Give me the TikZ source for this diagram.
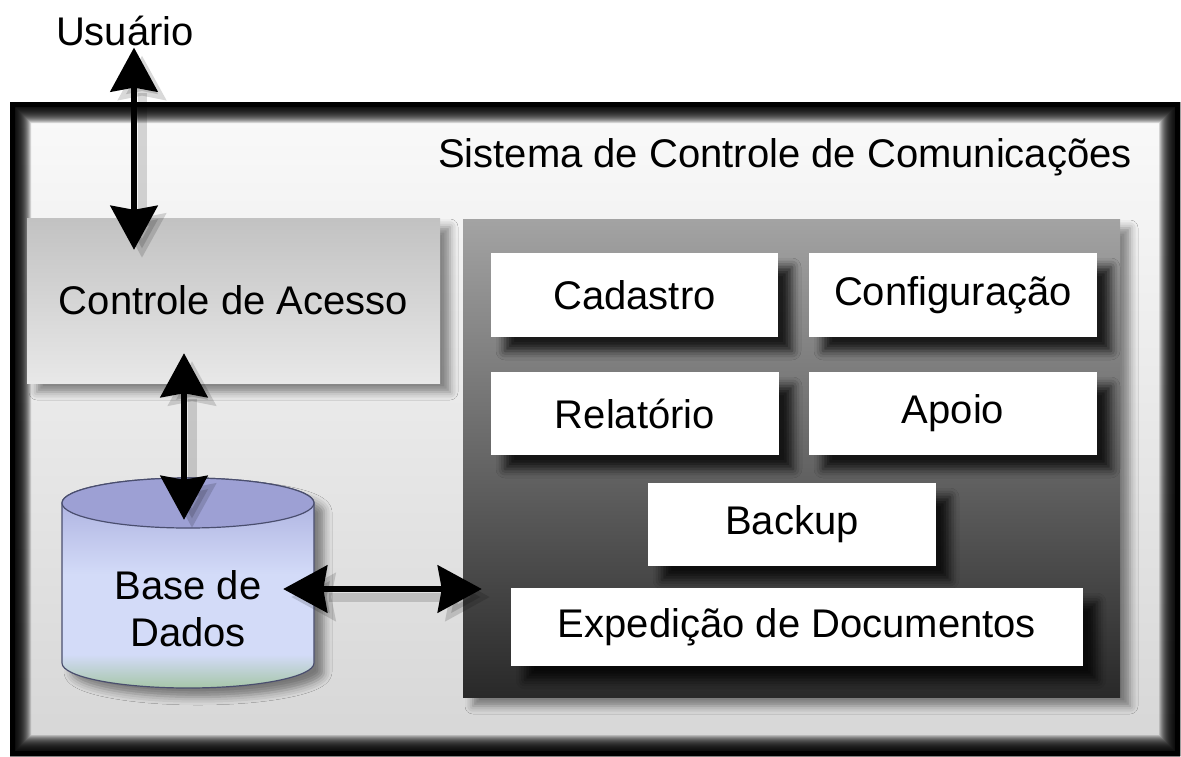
\documentclass[tikz,border=0pt]{standalone}
\usepackage{fontspec}
\setmainfont{Liberation Sans}
\usetikzlibrary{arrows.meta,shadows.blur}
\definecolor{dbcap}{HTML}{9DA0D4}
\definecolor{dbtop}{HTML}{A4A8DA}
\definecolor{dbmid}{HTML}{D3DBF8}
\definecolor{dbbot}{HTML}{A6C6A8}
\definecolor{dbline}{HTML}{4A4E6E}
\pgfdeclareverticalshading{dbbody}{100bp}{color(0bp)=(dbbot); color(25bp)=(dbbot);
	color(33bp)=(dbmid); color(52bp)=(dbmid); color(75bp)=(dbtop); color(100bp)=(dbtop)}
\begin{document}
\begin{tikzpicture}[
	x=1pt, y=-1pt,
	font=\fontsize{40}{47}\selectfont,
	label/.style={inner sep=0pt},
	module/.style={rectangle, fill=white, inner sep=0pt,
	blur shadow={shadow xshift=14pt, shadow yshift=-14pt, shadow blur radius=9pt, shadow opacity=80}},
	soft/.style={blur shadow={shadow xshift=10pt, shadow yshift=-9pt, shadow blur radius=8pt, shadow opacity=45}},
	link/.style={{Stealth[length=44pt,width=47pt,inset=4pt]}-{Stealth[length=44pt,width=47pt,inset=4pt]}, line width=6pt, draw=black,
	preaction={draw=black, opacity=0.15, line width=9pt, transform canvas={shift={(8pt,-8pt)}}}},
	]
	\useasboundingbox (0,0) rectangle (1181,756);
	% outer frame
	\fill[top color=black!2, bottom color=black!16] (10,102) rectangle (1180,756);
	\fill[black, even odd rule] (10,102) rectangle (1180,756) (15,107) rectangle (1175,751);
	\foreach \i in {6,...,21}
		\fill[black, opacity=0.14, even odd rule] (10,102) rectangle (1180,756) (10+\i,102+\i) rectangle (1180-\i,756-\i);
	\node[label, anchor=base] (title) at (785,167) {Sistema de Controle de Comunicações};
	\node[label, anchor=base] (usr) at (125,45) {Usuário};
	% access control and modules panel
	\node[soft, top color=black!24, bottom color=black!9, minimum width=413pt, minimum height=165pt] (acc) at (233.5,300.5) {Controle de Acesso};
	\node[soft, top color=black!36, middle color=black!52, bottom color=black!84, minimum width=657pt, minimum height=478pt] (pnl) at (791.5,458) {};
	\node[module, minimum width=287pt, minimum height=84pt] (cad) at (634.5,295) {Cadastro};
	\node[module, minimum width=288pt, minimum height=84pt] (cfg) at (953,295) {Configuração};
	\node[module, minimum width=288pt, minimum height=83pt] (rel) at (635,413.5) {Relatório};
	\node[module, minimum width=288pt, minimum height=83pt] (apo) at (953,413.5) {Apoio};
	\node[module, minimum width=288pt, minimum height=83pt] (bkp) at (792,524.5) {Backup};
	\node[module, minimum width=572pt, minimum height=78pt] (exp) at (797,627) {Expedição de Documentos};
	% database cylinder
	\node[inner sep=0pt, minimum width=252pt, minimum height=210pt] (db) at (188,583) {};
	\path[soft, draw=dbline, line width=1.2pt, shading=dbbody]
		(62,503) -- (62,663) arc[start angle=180, end angle=360, x radius=126pt, y radius=25pt]
		-- (314,503) arc[start angle=0, end angle=180, x radius=126pt, y radius=25pt] -- cycle;
	\draw[dbline, line width=1.2pt, fill=dbcap] (188,503) ellipse [x radius=126pt, y radius=25pt];
	\node[label, align=center] (dbtxt) at (188,609) {Base de\\Dados};
	% connectors
	\draw[link] ([xshift=9pt,yshift=-2pt]usr.south) -- ([xshift=-99.5pt,yshift=-32pt]acc.north);
	\draw[link] ([xshift=-49.5pt,yshift=30pt]acc.south) -- ([xshift=-4pt,yshift=-42pt]db.north);
	\draw[link] ([xshift=-31pt,yshift=-6pt]db.east) -- ([xshift=19pt,yshift=-131pt]pnl.west);
\end{tikzpicture}
\end{document}
